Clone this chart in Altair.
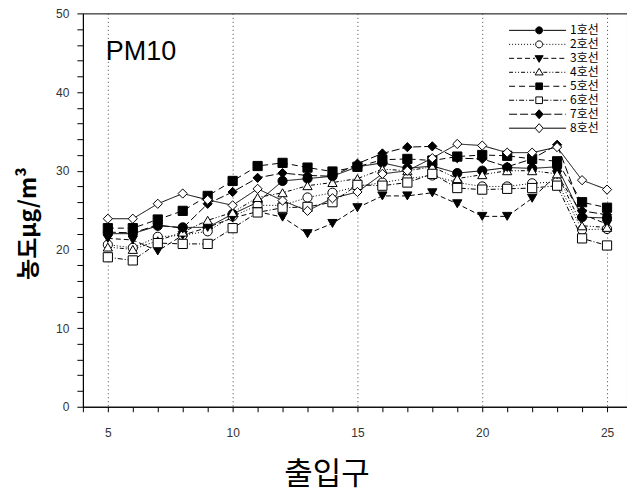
import math
import altair as alt
import pandas as pd

# ---------------- data ----------------
exits = list(range(5, 26))
names = ["1호선", "2호선", "3호선", "4호선", "5호선", "6호선", "7호선", "8호선"]

line1 = [22.0, 22.0, 23.0, 22.8, 22.8, 24.5, 26.0, 28.7, 29.0, 29.3, 30.5, 31.0, 30.3, 30.6, 29.7, 30.0, 30.4, 30.3, 30.5, 24.1, 24.0]
line2 = [20.6, 20.2, 21.6, 21.8, 22.3, 24.2, 25.6, 25.6, 26.6, 27.2, 28.0, 28.5, 29.0, 29.4, 28.5, 28.0, 28.0, 28.4, 28.6, 22.5, 22.6]
line3 = [21.4, 21.2, 19.8, 21.8, 22.8, 24.0, 24.8, 24.1, 22.0, 23.3, 25.3, 26.8, 26.8, 27.2, 25.8, 24.2, 24.2, 26.5, 29.5, 24.5, 23.2]
line4 = [20.3, 20.0, 21.1, 22.2, 23.7, 24.7, 26.6, 27.2, 28.1, 28.5, 29.0, 30.2, 30.0, 30.5, 29.0, 29.5, 30.0, 30.0, 29.6, 23.0, 22.8]
line5 = [22.7, 22.7, 23.8, 24.9, 26.8, 28.7, 30.6, 31.0, 30.4, 29.9, 30.5, 31.4, 31.5, 31.3, 31.8, 32.0, 31.9, 31.5, 31.2, 26.0, 25.3]
line6 = [19.0, 18.6, 20.8, 20.7, 20.7, 22.7, 24.7, 25.3, 25.4, 26.0, 28.2, 28.1, 28.5, 29.6, 27.8, 27.6, 27.7, 27.8, 28.1, 21.4, 20.5]
line7 = [22.2, 22.1, 23.1, 22.7, 25.8, 27.3, 29.1, 29.7, 29.4, 29.3, 30.9, 32.2, 33.0, 33.1, 31.6, 31.5, 30.5, 31.5, 33.3, 24.9, 24.4]
line8 = [23.9, 23.9, 25.8, 27.1, 26.3, 25.6, 27.7, 26.2, 24.9, 26.5, 27.3, 29.6, 30.0, 31.6, 33.4, 33.2, 32.3, 32.3, 33.0, 28.8, 27.6]
series = [line1, line2, line3, line4, line5, line6, line7, line8]

x_ticks = list(range(4, 26))
y_ticks = list(range(0, 51, 2))

# ---------------- styles ----------------
shapes = ["circle", "circle", "triangle-down", "triangle-up", "square", "square", "diamond", "diamond"]
fills = ["black", "white", "black", "white", "black", "white", "black", "white"]
dashes = [[1, 0], [1, 2], [5, 3], [4, 2, 1, 2, 1, 2], [6, 4], [5, 2, 1, 2], [8, 3], [1, 0]]

# legend symbols: line segment (with its dash) + marker, as custom paths
R = 3.5  # px per path unit for legend symbol size 49


def seg_path(x0, x1, dash):
    if dash == [1, 0]:
        return f"M{x0:.2f},0H{x1:.2f}"
    out = []
    pos, i, on = x0, 0, True
    while pos < x1 - 1e-6:
        L = dash[i % len(dash)] / R
        end = min(pos + L, x1)
        if on:
            out.append(f"M{pos:.2f},0H{end:.2f}")
        pos, on, i = end, not on, i + 1
    return "".join(out)


def circle_path(r=1.0, n=20):
    pts = [(r * math.cos(2 * math.pi * k / n), r * math.sin(2 * math.pi * k / n)) for k in range(n)]
    return "M" + "L".join(f"{a:.3f},{b:.3f}" for a, b in pts) + "Z"


marker_paths = {
    "circle": circle_path(1.0),
    "triangle-down": "M-1.15,-0.75L1.15,-0.75L0,1.15Z",
    "triangle-up": "M0,-1.15L1.15,0.75L-1.15,0.75Z",
    "square": "M-0.95,-0.95H0.95V0.95H-0.95Z",
    "diamond": "M0,-1.3L1.15,0L0,1.3L-1.15,0Z",
}
legend_paths = [
    "M0,-1.4M0,1.4" + seg_path(-8.6, -1.2, d) + seg_path(1.2, 7.7, d) + marker_paths[s]
    for s, d in zip(shapes, dashes)
]

# ---------------- table ----------------
rows = []
for name, vals in zip(names, series):
    for xv, yv in zip(exits, vals):
        rows.append({"출입구": xv, "농도": yv, "노선": name})
df = pd.DataFrame(rows)

x_enc = alt.X(
    "출입구:Q",
    scale=alt.Scale(domain=[4, 25.8], nice=False, zero=False),
    axis=alt.Axis(
        values=x_ticks,
        labelExpr="datum.value % 5 == 0 ? datum.label : ''",
        grid=True,
        gridColor={"condition": {"test": "datum.value % 5 == 0", "value": "#444444"}, "value": "transparent"},
        gridDash=[1, 3],
        gridWidth=1,
        tickSize=5,
        labelPadding=16,
        title="출입구",
        titleFont="Noto Sans CJK KR",
        titleFontSize=31,
        titleFontWeight="normal",
        titleColor="black",
        titleX=244,
        titleY=53,
        titleBaseline="top",
        titleAlign="center",
    ),
)
y_enc = alt.Y(
    "농도:Q",
    scale=alt.Scale(domain=[0, 50], nice=False),
    axis=alt.Axis(
        values=y_ticks,
        labelExpr="datum.value % 10 == 0 ? datum.label : ''",
        grid=False,
        tickSize=6,
        labelPadding=8,
        title="농도μg/m³",
        titleFont="Noto Sans CJK KR",
        titleFontSize=23,
        titleFontWeight="bold",
        titleColor="black",
        titleX=-42,
        titleY=210,
        titleAlign="center",
    ),
)

base = alt.Chart(df)

layers = []
for name, dash in zip(names, dashes):
    layers.append(
        base.transform_filter(alt.datum["노선"] == name)
        .mark_line(color="black", strokeWidth=1, strokeDash=dash)
        .encode(x=x_enc, y=y_enc, order="출입구:Q")
    )
for name, shp, fc in zip(names, shapes, fills):
    layers.append(
        base.transform_filter(alt.datum["노선"] == name)
        .mark_point(filled=True, size=85, shape=shp, fill=fc, stroke="black", strokeWidth=1, opacity=1)
        .encode(x=x_enc, y=y_enc)
    )

leg_def = dict(
    title=None,
    orient="none",
    legendX=451,
    legendY=11,
    padding=0,
    symbolSize=49,
    symbolStrokeColor="black",
    symbolStrokeWidth=1,
    symbolOpacity=1,
    labelOffset=25,
    labelFont="Noto Sans CJK KR",
    labelFontSize=12,
    labelColor="black",
    rowPadding=0,
)
legend_layer = base.mark_point(filled=True, size=49, strokeWidth=1, opacity=0).encode(
    x=x_enc,
    y=y_enc,
    shape=alt.Shape("노선:N", scale=alt.Scale(domain=names, range=legend_paths), legend=alt.Legend(**leg_def)),
    fill=alt.Fill("노선:N", scale=alt.Scale(domain=names, range=fills), legend=alt.Legend(**leg_def)),
    stroke=alt.Stroke("노선:N", scale=alt.Scale(domain=names, range=["black"] * 8), legend=alt.Legend(**leg_def)),
)
layers.append(legend_layer)

label = alt.Chart(pd.DataFrame({"t": ["PM10"]})).mark_text(
    align="left", baseline="middle", fontSize=27, font="Liberation Sans", color="black"
).encode(x=alt.value(23), y=alt.value(39), text="t:N")
layers.append(label)

chart = (
    alt.layer(*layers)
    .properties(
        width=545,
        height=394,
        autosize=alt.AutoSizeParams(type="none"),
        padding={"left": 75, "top": 5, "right": 0, "bottom": 89},
        background="white",
    )
    .configure_view(stroke="black", strokeWidth=1)
    .configure_axis(
        domainColor="black",
        tickColor="black",
        labelColor="#333333",
        labelFont="Liberation Sans",
        labelFontSize=12,
    )
)

chart.save("out.html", embed_options={"renderer": "svg", "actions": False})
